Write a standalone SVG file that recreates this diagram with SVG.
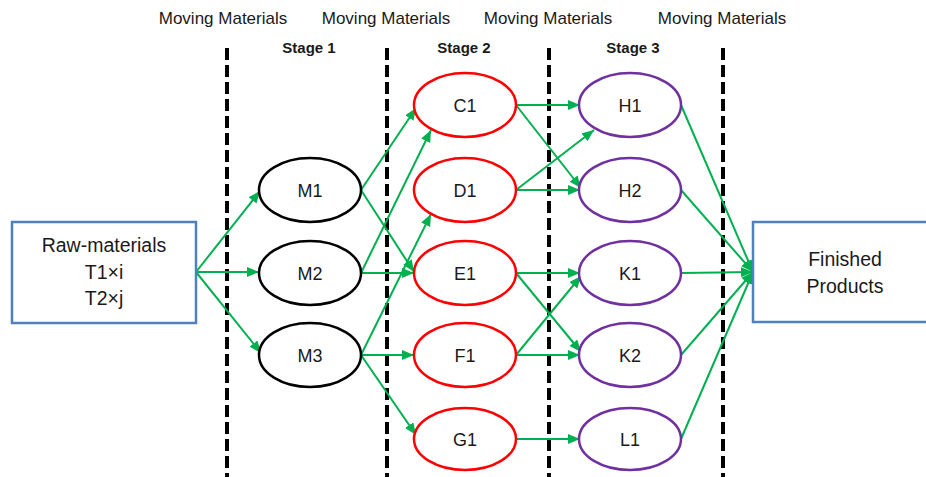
<svg xmlns="http://www.w3.org/2000/svg" width="926" height="477" viewBox="0 0 926 477">
<style>
text{font-family:"Liberation Sans",Arial,sans-serif;fill:#1a1a1a;text-anchor:middle}
.mm{font-size:17px}
.st{font-size:15px;font-weight:bold}
.lbl{font-size:18px}
.big{font-size:19.5px}
.box{fill:#fff;stroke:#4F81BD;stroke-width:2.5}
.s1{fill:#fff;stroke:#000;stroke-width:2.5}
.s2{fill:#fff;stroke:#FF0000;stroke-width:2.5}
.s3{fill:#fff;stroke:#7030A0;stroke-width:2.5}
.dash{stroke:#000;stroke-width:4;stroke-dasharray:12 5;fill:none}
.c{stroke:#00B050;stroke-width:2;fill:none;marker-end:url(#ah)}
</style>
<defs>
<marker id="ah" markerUnits="userSpaceOnUse" markerWidth="13" markerHeight="11" refX="12" refY="5" orient="auto">
<path d="M0,0 L12,5 L0,10 z" fill="#00B050"/>
</marker>
</defs>
<rect width="926" height="477" fill="#fff"/>
<g id="dividers">
<line class="dash" x1="227" y1="48" x2="227" y2="477"/>
<line class="dash" x1="387" y1="48" x2="387" y2="477"/>
<line class="dash" x1="549" y1="48" x2="549" y2="477"/>
<line class="dash" x1="723" y1="48" x2="723" y2="477"/>
</g>
<g id="headers">
<text class="mm" x="223" y="24">Moving Materials</text>
<text class="mm" x="386" y="24">Moving Materials</text>
<text class="mm" x="548" y="24">Moving Materials</text>
<text class="mm" x="722" y="24">Moving Materials</text>
<text class="st" x="309" y="53">Stage 1</text>
<text class="st" x="464" y="53">Stage 2</text>
<text class="st" x="633" y="53">Stage 3</text>
</g>
<g id="connectors">
<line class="c" x1="196" y1="272" x2="260" y2="191"/>
<line class="c" x1="196" y1="272" x2="259" y2="272"/>
<line class="c" x1="196" y1="272" x2="261" y2="353"/>
<line class="c" x1="361" y1="190" x2="416" y2="108"/>
<line class="c" x1="361" y1="190" x2="414" y2="272"/>
<line class="c" x1="361" y1="273" x2="431" y2="130"/>
<line class="c" x1="361" y1="273" x2="414" y2="273"/>
<line class="c" x1="361" y1="355" x2="431" y2="214"/>
<line class="c" x1="361" y1="355" x2="414" y2="355"/>
<line class="c" x1="361" y1="355" x2="416" y2="435"/>
<line class="c" x1="516" y1="105" x2="580" y2="105"/>
<line class="c" x1="516" y1="105" x2="581" y2="188"/>
<line class="c" x1="516" y1="190" x2="594" y2="130"/>
<line class="c" x1="516" y1="190" x2="580" y2="190"/>
<line class="c" x1="516" y1="273" x2="580" y2="273"/>
<line class="c" x1="516" y1="273" x2="581" y2="352"/>
<line class="c" x1="516" y1="355" x2="581" y2="276"/>
<line class="c" x1="516" y1="355" x2="580" y2="355"/>
<line class="c" x1="516" y1="439" x2="580" y2="439"/>
<line class="c" x1="681" y1="105" x2="753" y2="272"/>
<line class="c" x1="681" y1="190" x2="753" y2="272"/>
<line class="c" x1="681" y1="273" x2="753" y2="272"/>
<line class="c" x1="681" y1="355" x2="753" y2="272"/>
<line class="c" x1="681" y1="439" x2="753" y2="272"/>
</g>
<g id="raw">
<rect class="box" x="12" y="222" width="184" height="101"/>
<text class="big" x="104" y="252">Raw-materials</text>
<text class="big" x="104" y="279">T1×i</text>
<text class="big" x="104" y="305">T2×j</text>
</g>
<g id="finished">
<rect class="box" x="753" y="222" width="185" height="100"/>
<text class="big" x="845" y="266">Finished</text>
<text class="big" x="845" y="293">Products</text>
</g>
<g id="M1"><ellipse class="s1" cx="310" cy="190" rx="51" ry="32"/><text class="lbl" x="310" y="197">M1</text></g>
<g id="M2"><ellipse class="s1" cx="310" cy="273" rx="51" ry="32"/><text class="lbl" x="310" y="280">M2</text></g>
<g id="M3"><ellipse class="s1" cx="310" cy="355" rx="51" ry="32"/><text class="lbl" x="310" y="362">M3</text></g>
<g id="C1"><ellipse class="s2" cx="465" cy="105" rx="51" ry="32"/><text class="lbl" x="465" y="112">C1</text></g>
<g id="D1"><ellipse class="s2" cx="465" cy="190" rx="51" ry="32"/><text class="lbl" x="465" y="197">D1</text></g>
<g id="E1"><ellipse class="s2" cx="465" cy="273" rx="51" ry="32"/><text class="lbl" x="465" y="280">E1</text></g>
<g id="F1"><ellipse class="s2" cx="465" cy="355" rx="51" ry="32"/><text class="lbl" x="465" y="362">F1</text></g>
<g id="G1"><ellipse class="s2" cx="465" cy="439" rx="51" ry="31"/><text class="lbl" x="465" y="446">G1</text></g>
<g id="H1"><ellipse class="s3" cx="630" cy="105" rx="51" ry="32"/><text class="lbl" x="630" y="112">H1</text></g>
<g id="H2"><ellipse class="s3" cx="630" cy="190" rx="51" ry="32"/><text class="lbl" x="630" y="197">H2</text></g>
<g id="K1"><ellipse class="s3" cx="630" cy="273" rx="51" ry="32"/><text class="lbl" x="630" y="280">K1</text></g>
<g id="K2"><ellipse class="s3" cx="630" cy="355" rx="51" ry="32"/><text class="lbl" x="630" y="362">K2</text></g>
<g id="L1"><ellipse class="s3" cx="630" cy="439" rx="51" ry="31"/><text class="lbl" x="630" y="446">L1</text></g>
</svg>
